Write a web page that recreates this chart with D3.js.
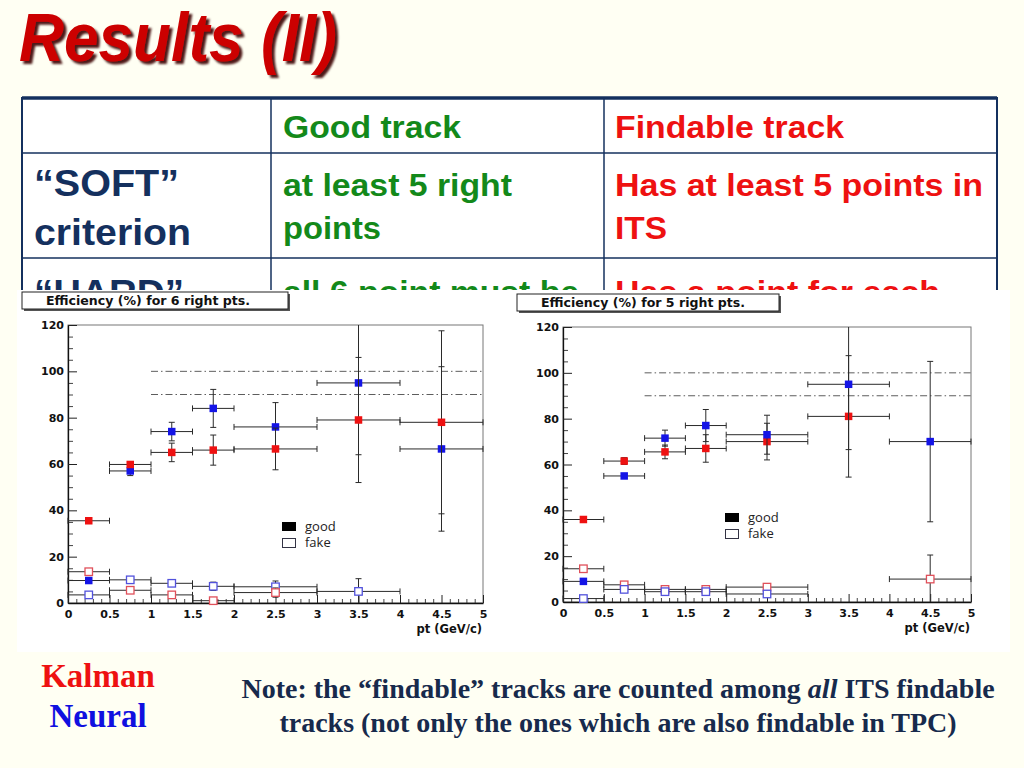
<!DOCTYPE html>
<html>
  <head>
    <script src="https://d3js.org/d3.v7.min.js"></script>
    <style>
      html, body { margin: 0; padding: 0; background: #fffff3; }
      svg { display: block; }
    </style>
  </head>
  <body>
    <div id="slide"></div>
    <script>
      // pt bins (GeV/c), shared by both plots
      var ptBins = [[0, 0.5], [0.5, 1], [1, 1.5], [1.5, 2], [2, 3], [3, 4], [4, 5]];
      var yTicks = [0, 20, 40, 60, 80, 100, 120];
      var xTicks = [0, 0.5, 1, 1.5, 2, 2.5, 3, 3.5, 4, 4.5, 5];
      var refLines = [100, 90];

      // 6 right points (left plot)
      var kalmanGood6 = [35.5, 59.8, 65, 66, 66.5, 79, 78];
      var kalmanGood6Err = [0.8, 1.2, 4, 6.5, 9, 27, 39.5];
      var neuralGood6 = [9.7, 57, 74, 84, 76, 95, 66.5];
      var neuralGood6Err = [0.6, 2, 4, 8.2, 10.5, 31, 35.5];
      var kalmanFake6 = [13.5, 5.5, 3.5, 1, 4.5, null, null];
      var kalmanFake6Err = [0.8, 1, 1, 0.8, 2, null, null];
      var neuralFake6 = [3.5, 10, 8.5, 7.2, 7, 5, null];
      var neuralFake6Err = [0.5, 1, 1, 1.8, 2.5, 5.5, null];

      // 5 right points (right plot)
      var kalmanGood5 = [36, 61.5, 65.5, 67, 70, 81, null];
      var kalmanGood5Err = [0.8, 1.5, 3, 6, 8, 26.5, null];
      var neuralGood5 = [9, 55, 71.5, 77, 73, 95, 70];
      var neuralGood5Err = [0.6, 1, 3.5, 7, 8.5, 28.5, 35];
      var kalmanFake5 = [14.5, 7.5, 5.5, 5.5, 6.5, null, 10];
      var kalmanFake5Err = [0.8, 1, 1, 1, 1.2, null, 10.5];
      var neuralFake5 = [1.5, 5.5, 4.5, 4.5, 3.5, null, null];
      var neuralFake5Err = [0.5, 0.8, 0.8, 0.8, 1.2, null, null];

      var W = 1024, H = 768;
      var navy = "#14305e";
      var green = "#13891a";
      var red = "#ee1111";

      var svg = d3.select("#slide").append("svg")
        .attr("width", W).attr("height", H);

      var defs = svg.append("defs");
      defs.append("filter").attr("id", "shadow")
        .attr("x", "-5%").attr("y", "-10%").attr("width", "115%").attr("height", "130%")
        .append("feDropShadow")
        .attr("dx", 3).attr("dy", 3).attr("stdDeviation", 0.8)
        .attr("flood-color", "#3a0000").attr("flood-opacity", 0.9);
      // row 3 of the table is hidden behind the plots panel
      defs.append("clipPath").attr("id", "tableClip")
        .append("rect").attr("x", 0).attr("y", 0).attr("width", W).attr("height", 290);

      svg.append("rect").attr("width", W).attr("height", H).attr("fill", "#fffff3");

      // ---- slide title
      svg.append("text")
        .attr("x", 19).attr("y", 61)
        .attr("fill", "#cc0000")
        .attr("filter", "url(#shadow)")
        .attr("font-family", "Liberation Sans, Arial, sans-serif")
        .attr("font-weight", "bold").attr("font-style", "italic")
        .attr("font-size", 68)
        .attr("textLength", 318).attr("lengthAdjust", "spacingAndGlyphs")
        .text("Results (II)");

      // ---- criteria table (cut off by the plots panel)
      var colX = [22, 271, 604, 997];
      var rowY = [98, 153, 258, 330];
      var table = svg.append("g").attr("clip-path", "url(#tableClip)");
      table.append("rect")
        .attr("x", colX[0]).attr("y", rowY[0])
        .attr("width", colX[3] - colX[0]).attr("height", rowY[3] - rowY[0])
        .attr("fill", "#ffffff").attr("stroke", navy).attr("stroke-width", 2);
      table.append("line")
        .attr("x1", colX[0]).attr("x2", colX[3]).attr("y1", rowY[0]).attr("y2", rowY[0])
        .attr("stroke", navy).attr("stroke-width", 3.5);
      [rowY[1], rowY[2]].forEach(function (y) {
        table.append("line").attr("x1", colX[0]).attr("x2", colX[3]).attr("y1", y).attr("y2", y)
          .attr("stroke", navy).attr("stroke-width", 1.5);
      });
      [colX[1], colX[2]].forEach(function (x) {
        table.append("line").attr("x1", x).attr("x2", x).attr("y1", rowY[0]).attr("y2", rowY[3])
          .attr("stroke", navy).attr("stroke-width", 1.5);
      });

      var cells = [
        { x: 283, y: 138, size: 32, color: green, text: "Good track", len: 178 },
        { x: 615, y: 138, size: 32, color: red, text: "Findable track", len: 229 },
        { x: 34, y: 196, size: 37, color: navy, text: "\u201cSOFT\u201d", len: 145 },
        { x: 34, y: 245, size: 37, color: navy, text: "criterion", len: 157 },
        { x: 283, y: 196, size: 32, color: green, text: "at least 5 right", len: 229 },
        { x: 283, y: 239, size: 32, color: green, text: "points", len: 98 },
        { x: 615, y: 196, size: 32, color: red, text: "Has at least 5 points in", len: 368 },
        { x: 615, y: 239, size: 32, color: red, text: "ITS", len: 52 },
        { x: 34, y: 306, size: 37, color: navy, text: "\u201cHARD\u201d", len: 150 },
        { x: 283, y: 303, size: 32, color: green, text: "all 6 point must be", len: 296 },
        { x: 615, y: 303, size: 32, color: red, text: "Has a point for each", len: 325 }
      ];
      table.selectAll("text.cell").data(cells).join("text")
        .attr("class", "cell")
        .attr("x", function (d) { return d.x; })
        .attr("y", function (d) { return d.y; })
        .attr("fill", function (d) { return d.color; })
        .attr("font-family", "Liberation Sans, Arial, sans-serif")
        .attr("font-weight", "bold")
        .attr("font-size", function (d) { return d.size; })
        .attr("textLength", function (d) { return d.len; })
        .attr("lengthAdjust", "spacingAndGlyphs")
        .text(function (d) { return d.text; });

      // ---- white panel holding the two ROOT plots
      svg.append("rect")
        .attr("x", 17).attr("y", 290).attr("width", 993).attr("height", 362)
        .attr("fill", "#ffffff");

      function drawPlot(cfg) {
        var g = svg.append("g");
        var x = d3.scaleLinear().domain([0, 5]).range([cfg.left, cfg.right]);
        var y = d3.scaleLinear().domain([0, 120]).range([cfg.bottom, cfg.top]);
        var tickFont = "DejaVu Sans, Verdana, sans-serif";

        // frame
        g.append("rect")
          .attr("x", x(0)).attr("y", y(120))
          .attr("width", x(5) - x(0)).attr("height", y(0) - y(120))
          .attr("fill", "none").attr("stroke", "#777").attr("stroke-width", 1);

        // minor ticks
        var minorY = d3.range(0, 121, 5).filter(function (v) { return v % 20 !== 0; });
        g.append("g").attr("transform", "translate(" + x(0) + ",0)")
          .call(d3.axisLeft(y).tickValues(minorY).tickSize(-5).tickFormat(""))
          .call(function (a) { a.select(".domain").remove(); a.selectAll("line").attr("stroke", "#444"); });
        var minorX = d3.range(0, 51).map(function (v) { return v / 10; })
          .filter(function (v) { return Math.round(v * 10) % 5 !== 0; });
        g.append("g").attr("transform", "translate(0," + y(0) + ")")
          .call(d3.axisBottom(x).tickValues(minorX).tickSize(-4).tickFormat(""))
          .call(function (a) { a.select(".domain").remove(); a.selectAll("line").attr("stroke", "#444"); });

        // major axes
        var ya = g.append("g").attr("transform", "translate(" + x(0) + ",0)")
          .call(d3.axisLeft(y).tickValues(yTicks).tickSize(-9).tickSizeOuter(0).tickPadding(4));
        var xa = g.append("g").attr("transform", "translate(0," + y(0) + ")")
          .call(d3.axisBottom(x).tickValues(xTicks).tickSize(-8).tickSizeOuter(0).tickPadding(7)
            .tickFormat(d3.format("")));
        [ya, xa].forEach(function (a) {
          a.select(".domain").attr("stroke", "#111").attr("stroke-width", 1.3);
          a.selectAll("line").attr("stroke", "#222");
          a.selectAll("text").attr("font-family", tickFont).attr("font-weight", "bold")
            .attr("font-size", 11).attr("fill", "#111");
        });

        g.append("text")
          .attr("x", x(5) - 1).attr("y", cfg.bottom + 30)
          .attr("text-anchor", "end")
          .attr("font-family", tickFont).attr("font-weight", "bold").attr("font-size", 11.5)
          .attr("fill", "#111")
          .text("pt (GeV/c)");

        // 100% / 90% reference lines
        g.selectAll("line.ref").data(refLines).join("line")
          .attr("class", "ref")
          .attr("x1", x(1)).attr("x2", x(5))
          .attr("y1", function (d) { return y(d); }).attr("y2", function (d) { return y(d); })
          .attr("stroke", "#333").attr("stroke-width", 0.8)
          .attr("stroke-dasharray", "7,3,1.5,3");

        // series: error bars first, then markers
        var cap = 3, mk = 7.5;
        cfg.series.forEach(function (s) {
          var pts = s.vals.map(function (v, i) {
            return v === null ? null : { lo: ptBins[i][0], hi: ptBins[i][1], v: v, e: s.errs[i] };
          }).filter(function (p) { return p; });
          var eg = g.append("g").attr("stroke", "#2a2a2a").attr("stroke-width", 1);
          pts.forEach(function (p) {
            var cx = x((p.lo + p.hi) / 2), cy = y(p.v);
            var top = y(Math.min(p.v + p.e, 120)), bot = y(Math.max(p.v - p.e, 0));
            eg.append("line").attr("x1", x(p.lo)).attr("x2", x(p.hi)).attr("y1", cy).attr("y2", cy);
            eg.append("line").attr("x1", x(p.lo)).attr("x2", x(p.lo)).attr("y1", cy - cap).attr("y2", cy + cap);
            eg.append("line").attr("x1", x(p.hi)).attr("x2", x(p.hi)).attr("y1", cy - cap).attr("y2", cy + cap);
            eg.append("line").attr("x1", cx).attr("x2", cx).attr("y1", top).attr("y2", bot);
            if (p.v + p.e < 120) {
              eg.append("line").attr("x1", cx - cap).attr("x2", cx + cap).attr("y1", top).attr("y2", top);
            }
            if (p.v - p.e > 0) {
              eg.append("line").attr("x1", cx - cap).attr("x2", cx + cap).attr("y1", bot).attr("y2", bot);
            }
          });
          g.append("g").selectAll("rect").data(pts).join("rect")
            .attr("x", function (p) { return x((p.lo + p.hi) / 2) - mk / 2; })
            .attr("y", function (p) { return y(p.v) - mk / 2; })
            .attr("width", mk).attr("height", mk)
            .attr("fill", s.open ? "#ffffff" : s.color)
            .attr("stroke", s.open ? s.color : "none")
            .attr("stroke-width", 1.3);
        });

        // legend
        var lg = g.append("g").attr("transform", "translate(" + cfg.legend[0] + "," + cfg.legend[1] + ")");
        lg.append("rect").attr("x", 0).attr("y", 0).attr("width", 14).attr("height", 9).attr("fill", "#000");
        lg.append("rect").attr("x", 0.5).attr("y", 16.5).attr("width", 13).attr("height", 9)
          .attr("fill", "#fff").attr("stroke", "#334").attr("stroke-width", 1);
        lg.selectAll("text").data(["good", "fake"]).join("text")
          .attr("x", 23).attr("y", function (d, i) { return 9 + i * 16; })
          .attr("font-family", "Open Sans, DejaVu Sans, sans-serif").attr("font-size", 13)
          .attr("fill", "#222")
          .text(function (d) { return d; });

        // plot title box with shadow
        var tb = cfg.titleBox;
        g.append("rect").attr("x", tb[0] + 2).attr("y", tb[1] + 2).attr("width", tb[2]).attr("height", tb[3])
          .attr("fill", "#555");
        g.append("rect").attr("x", tb[0]).attr("y", tb[1]).attr("width", tb[2]).attr("height", tb[3])
          .attr("fill", "#fff").attr("stroke", "#222").attr("stroke-width", 1);
        g.append("text")
          .attr("x", tb[0] + 24).attr("y", tb[1] + 13)
          .attr("font-family", tickFont).attr("font-weight", "bold").attr("font-size", 11.5)
          .attr("fill", "#111")
          .attr("textLength", 204).attr("lengthAdjust", "spacingAndGlyphs")
          .text(cfg.title);
      }

      var kalmanColor = "#ee1111", neuralColor = "#1414e6";
      var kalmanOpen = "#e0505a", neuralOpen = "#5252dc";

      drawPlot({
        left: 68, right: 483, top: 325, bottom: 603,
        title: "Efficiency (%) for 6 right pts.",
        titleBox: [22, 292, 266, 17],
        legend: [282, 522],
        series: [
          { vals: neuralFake6, errs: neuralFake6Err, color: neuralOpen, open: true },
          { vals: kalmanFake6, errs: kalmanFake6Err, color: kalmanOpen, open: true },
          { vals: neuralGood6, errs: neuralGood6Err, color: neuralColor, open: false },
          { vals: kalmanGood6, errs: kalmanGood6Err, color: kalmanColor, open: false }
        ]
      });

      drawPlot({
        left: 563, right: 971, top: 327, bottom: 602,
        title: "Efficiency (%) for 5 right pts.",
        titleBox: [517, 294, 262, 17],
        legend: [725, 513],
        series: [
          { vals: kalmanFake5, errs: kalmanFake5Err, color: kalmanOpen, open: true },
          { vals: neuralFake5, errs: neuralFake5Err, color: neuralOpen, open: true },
          { vals: kalmanGood5, errs: kalmanGood5Err, color: kalmanColor, open: false },
          { vals: neuralGood5, errs: neuralGood5Err, color: neuralColor, open: false }
        ]
      });

      // ---- bottom labels
      var serif = "Liberation Serif, Times New Roman, serif";
      svg.append("text").attr("x", 98).attr("y", 687).attr("text-anchor", "middle")
        .attr("font-family", serif).attr("font-weight", "bold").attr("font-size", 33)
        .attr("fill", "#ee1111").text("Kalman");
      svg.append("text").attr("x", 98).attr("y", 727).attr("text-anchor", "middle")
        .attr("font-family", serif).attr("font-weight", "bold").attr("font-size", 33)
        .attr("fill", "#1010e0").text("Neural");

      var note = svg.append("text").attr("text-anchor", "middle")
        .attr("font-family", serif).attr("font-weight", "bold").attr("font-size", 28)
        .attr("fill", "#172a4c");
      var l1 = note.append("tspan").attr("x", 618).attr("y", 698);
      l1.append("tspan").text("Note: the \u201cfindable\u201d tracks are counted among ");
      l1.append("tspan").attr("font-style", "italic").text("all");
      l1.append("tspan").text(" ITS findable");
      note.append("tspan").attr("x", 618).attr("y", 732)
        .text("tracks (not only the ones which are also findable in TPC)");
    </script>
  </body>
</html>
